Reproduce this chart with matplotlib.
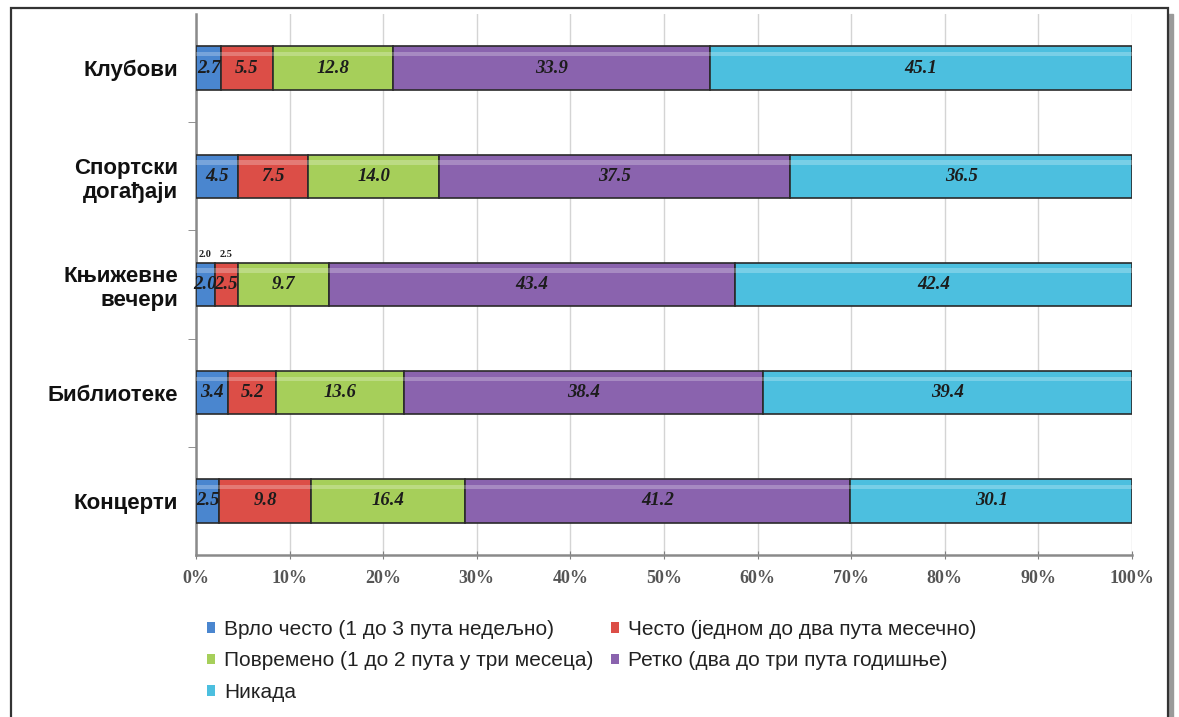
"""Stacked horizontal bars: attendance frequency by activity."""
import matplotlib

matplotlib.use("Agg")
import matplotlib.pyplot as plt
import numpy as np
from matplotlib.patches import Patch, Rectangle

# data
categories = ["Клубови", "Спортски\nдогађаји", "Књижевне\nвечери", "Библиотеке", "Концерти"]
series_names = [
    "Врло често (1 до 3 пута недељно)",
    "Често (једном до два пута месечно)",
    "Повремено (1 до 2 пута у три месеца)",
    "Ретко (два до три пута годишње)",
    "Никада",
]
vrlo_cesto = [2.7, 4.5, 2.0, 3.4, 2.5]
cesto = [5.5, 7.5, 2.5, 5.2, 9.8]
povremeno = [12.8, 14.0, 9.7, 13.6, 16.4]
retko = [33.9, 37.5, 43.4, 38.4, 41.2]
nikada = [45.1, 36.5, 42.4, 39.4, 30.1]
x_ticks = [0, 10, 20, 30, 40, 50, 60, 70, 80, 90, 100]

colors = ["#4a86cf", "#dc4e47", "#a6cf5a", "#8a63ae", "#4cbfdf"]
series = [vrlo_cesto, cesto, povremeno, retko, nikada]

fig = plt.figure(figsize=(11.79, 7.17), dpi=100)

# page frame with shadow (behind everything)
fig.patches.append(Rectangle((1168 / 1179, -0.05), 5 / 1179, 1.03,
                             transform=fig.transFigure, color="#9a9a9a", zorder=-2))
fig.patches.append(Rectangle((11 / 1179, -0.05), (1168 - 11) / 1179, 1.05 - 8 / 717,
                             transform=fig.transFigure, facecolor="white",
                             edgecolor="#333333", linewidth=1.6, zorder=-1))

ax = fig.add_axes([196 / 1179, 1 - 555 / 717, (1132 - 196) / 1179, (555 - 14) / 717])
ax.set_zorder(2)

ypos = np.arange(len(categories))
h = 0.4
# rows where the first two segments are too narrow get extra labels above
narrow = (np.array(vrlo_cesto) + np.array(cesto)) < 5
left = np.zeros(len(categories))
for k, (vals, col) in enumerate(zip(series, colors)):
    vals = np.array(vals)
    ax.barh(ypos, vals, left=left, height=h, color=col, edgecolor="#2a2a2a",
            linewidth=1.2, zorder=3)
    # bevel highlight
    ax.barh(ypos - h * 0.32, vals, left=left, height=h * 0.1, color="white",
            alpha=0.25, linewidth=0, zorder=4)
    for i, (y, v, l) in enumerate(zip(ypos, vals, left)):
        ax.text(l + v / 2, y, f"{v:.1f}", ha="center", va="center",
                fontsize=13.5, fontweight="bold", fontstyle="italic",
                family="Liberation Serif", color="#1c1c1c", zorder=5)
        if narrow[i] and k < 2:
            ax.text(l + v / 2, y - h / 2 - 0.04, f"{v:.1f}", ha="center",
                    va="bottom", fontsize=7.5, fontweight="bold",
                    family="Liberation Serif", color="#222222", zorder=5)
    left += vals

ax.set_xlim(0, 100)
ax.set_ylim(len(categories) - 0.5, -0.5)
ax.set_xticks(x_ticks)
ax.set_xticklabels([f"{t}%" for t in x_ticks], family="Liberation Serif",
                   fontweight="bold", fontsize=13, color="#555555")
ax.tick_params(axis="x", direction="inout", length=6, color="#808080", pad=8)
ax.set_yticks(ypos)
ax.set_yticklabels(categories, fontsize=16, fontweight="bold",
                   family="Liberation Sans", ha="right", color="#111111")
ax.tick_params(axis="y", length=0, pad=13)
ax.set_yticks(np.arange(0.5, len(categories) - 0.5, 1), minor=True)
ax.tick_params(axis="y", which="minor", length=6, color="#808080", direction="out")
ax.xaxis.grid(True, color="#d4d4d4", linewidth=1, zorder=0)
ax.set_axisbelow(True)
for s in ["top", "right"]:
    ax.spines[s].set_visible(False)
for s in ["left", "bottom"]:
    ax.spines[s].set_color("#8a8a8a")
    ax.spines[s].set_linewidth(1.8)

# legend, row-wise like the source
handles = [Patch(facecolor=c, edgecolor="none") for c in colors]
order = [0, 2, 4, 1, 3]
leg = fig.legend([handles[i] for i in order], [series_names[i] for i in order],
                 ncol=2, loc="upper left", bbox_to_anchor=(188 / 1179, 1 - 601 / 717),
                 frameon=False, handlelength=0.4, handleheight=0.4,
                 handletextpad=0.45, columnspacing=0.8, labelspacing=0.6,
                 prop={"family": "Liberation Sans", "size": 15})
for t in leg.get_texts():
    t.set_color("#222222")

fig.savefig("out.png", dpi=100)
